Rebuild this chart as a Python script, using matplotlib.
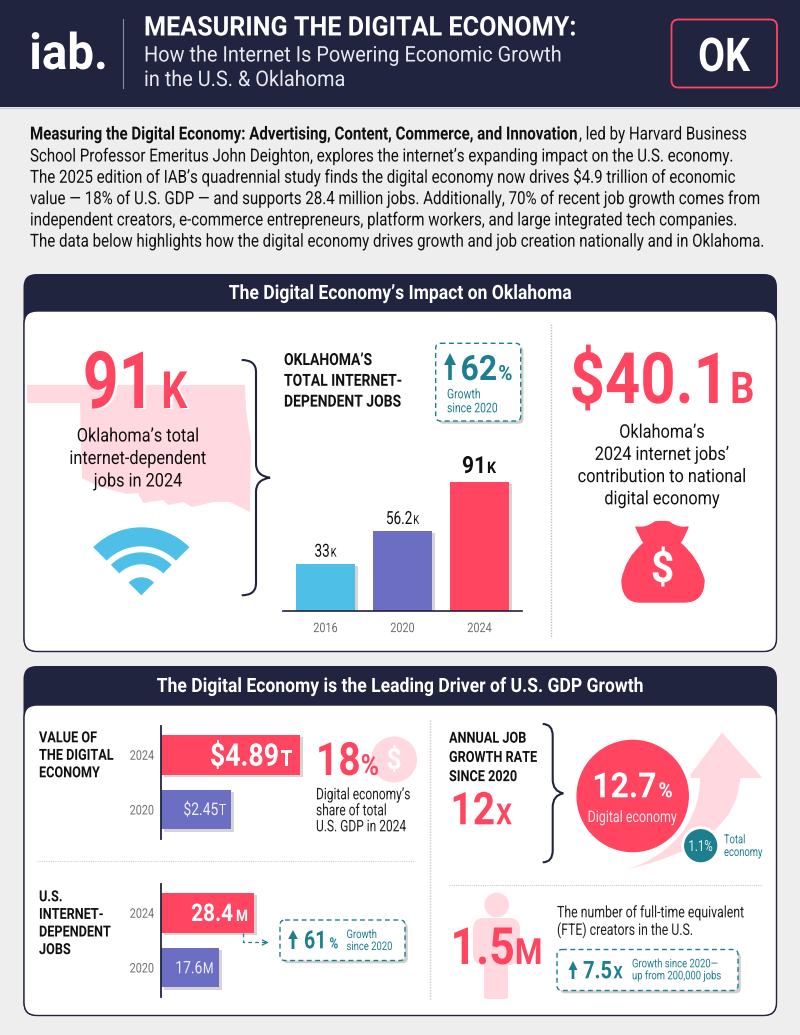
import matplotlib
matplotlib.use('Agg')
import matplotlib.pyplot as plt
import matplotlib.patheffects as pe
from matplotlib.patches import FancyBboxPatch, Circle, Wedge, Polygon, PathPatch
from matplotlib.path import Path
from matplotlib.text import Text
from matplotlib.transforms import Affine2D, Bbox

plt.rcParams['font.family'] = ['Roboto', 'DejaVu Sans']

NAVY = '#20243f'
RED = '#ff4560'
PURPLE = '#6c6ec4'
BLUE = '#4ec0e8'
TEAL = '#1d7f8e'
PINK = '#ffd9df'
BG = '#eeeeef'
GREY = '#6f6f6f'

# data
ok_years = ['2016', '2020', '2024']
ok_jobs = [33, 56.2, 91]
gdp_years = ['2020', '2024']
gdp_value = [2.45, 4.89]
jobs_years = ['2020', '2024']
jobs_value = [17.6, 28.4]

intro_lines = [
    "School Professor Emeritus John Deighton, explores the internet\u2019s expanding impact on the U.S. economy.",
    "The 2025 edition of IAB\u2019s quadrennial study finds the digital economy now drives $4.9 trillion of economic",
    "value \u2014 18% of U.S. GDP \u2014 and supports 28.4 million jobs. Additionally, 70% of recent job growth comes from",
    "independent creators, e-commerce entrepreneurs, platform workers, and large integrated tech companies.",
    "The data below highlights how the digital economy drives growth and job creation nationally and in Oklahoma.",
]

oklahoma_outline = [(27, 385), (245, 385), (246, 410), (251, 443), (250, 512), (240, 507), (230, 502), (213, 502),
                    (192, 507), (183, 502), (168, 505), (163, 500), (143, 503), (138, 493), (127, 494), (100, 487),
                    (82, 478), (80, 403), (27, 403)]

W, H = 800, 1035
fig = plt.figure(figsize=(W / 100, H / 100), dpi=100, facecolor=BG)


def full_axes(z):
    a = fig.add_axes([0, 0, 1, 1], zorder=z)
    a.set_xlim(0, W)
    a.set_ylim(H, 0)
    a.axis('off')
    return a


bg = full_axes(0)
ax = full_axes(10)
rend = fig.canvas.get_renderer()


class Squeeze(pe.AbstractPathEffect):
    # no condensed font here, so narrow the glyphs about the text anchor
    def __init__(self, text, sx, shadow=False):
        super().__init__()
        self.text = text
        self.sx = sx
        self.shadow = shadow

    def draw_path(self, renderer, gc, tpath, affine, rgbFace=None):
        xa = self.text.get_transform().transform(self.text.get_unitless_position())[0]
        tr = affine + Affine2D().translate(-xa, 0).scale(self.sx, 1).translate(xa, 0)
        if self.shadow:
            renderer.draw_path(gc, tpath, tr + Affine2D().translate(2.5, -1), (1, 1, 1, 1))
        renderer.draw_path(gc, tpath, tr, rgbFace)


class NarrowText(Text):
    def __init__(self, x, y, s, sx=0.83, shadow=False, **kw):
        super().__init__(x, y, s, **kw)
        self.sx = sx
        self.set_path_effects([Squeeze(self, sx, shadow)])

    def get_window_extent(self, renderer=None, dpi=None):
        bb = super().get_window_extent(renderer, dpi)
        xa = self.get_transform().transform(self.get_unitless_position())[0]
        return Bbox.from_extents(xa + (bb.x0 - xa) * self.sx, bb.y0, xa + (bb.x1 - xa) * self.sx, bb.y1)


def txt(x, y, s, size, color='#111111', weight='normal', ha='left', z=6, sx=0.83, shadow=False, **kw):
    t = NarrowText(x, y, s, sx=sx, shadow=shadow, fontsize=size, color=color, fontweight=weight,
                   horizontalalignment=ha, verticalalignment='baseline', zorder=z, **kw)
    t.set_clip_on(False)
    ax.add_artist(t)
    return t


def block(x, y, lines, size, pitch, **kw):
    for i, line in enumerate(lines):
        txt(x, y + i * pitch, line, size, **kw)


def num_unit(x, y, num, unit, size, usize, color='#111111', weight='bold', ha='center', gap=2, sx=0.83, shadow=False):
    # number plus a smaller unit letter on the same baseline
    a = txt(x, y, num, size, color=color, weight=weight, sx=sx, shadow=shadow)
    b = txt(x, y, unit, usize, color=color, weight=weight, sx=sx, shadow=shadow)
    wa = a.get_window_extent(rend).width
    wb = b.get_window_extent(rend).width
    left = x
    if ha == 'center':
        left = x - (wa + gap + wb) / 2
    elif ha == 'right':
        left = x - (wa + gap + wb)
    a.set_x(left)
    b.set_x(left + wa + gap)
    return a, b


def round_box(x0, y0, x1, y1, r, fc, ec='none', lw=0, z=1, on=None, **kw):
    p = FancyBboxPatch((x0, y0), x1 - x0, y1 - y0, boxstyle=f'round,pad=0,rounding_size={r}',
                       fc=fc, ec=ec, lw=lw, zorder=z, **kw)
    (on or ax).add_patch(p)
    return p


def panel(y0, y_head, y1, title):
    round_box(23.5, y0, 777, y1, 13, NAVY, z=1, on=bg)
    round_box(24, y_head, 776.5, y1 - 0.5, 13, 'white', ec=NAVY, lw=1, z=2, on=bg)
    txt(400, (y0 + y_head) / 2 + 6.5, title, 14.2, color='white', weight='bold', ha='center', sx=0.89)


def callout(x0, y0, x1, y1):
    p = round_box(x0, y0, x1, y1, 5, 'white', ec=TEAL, lw=1, z=3, linestyle=(0, (3.5, 2.5)))
    p.set_path_effects([pe.SimplePatchShadow(offset=(2, -2), shadow_rgbFace='#888888', alpha=0.4), pe.Normal()])


def up_arrow(x, y0, y1, w, head):
    pts = [(x, y0), (x + w, y0 + head), (x + w * 0.3, y0 + head), (x + w * 0.3, y1),
           (x - w * 0.3, y1), (x - w * 0.3, y0 + head), (x - w, y0 + head)]
    ax.add_patch(Polygon(pts, closed=True, fc=TEAL, ec='none', zorder=5))


def brace(x0, xm, xt, y0, ym, y1):
    c3 = Path.CURVE3
    verts = [(x0, y0), (xm, y0), (xm, y0 + 12), (xm, ym - 14), (xm, ym - 2), (xt, ym),
             (xm, ym + 2), (xm, ym + 14), (xm, y1 - 12), (xm, y1), (x0, y1)]
    codes = [Path.MOVETO, c3, c3, Path.LINETO, c3, c3, c3, c3, Path.LINETO, c3, c3]
    ax.add_patch(PathPatch(Path(verts, codes), fc='none', ec=NAVY, lw=1.5, zorder=4))


def inset(x, y, w, h):
    a = fig.add_axes([x / W, 1 - (y + h) / H, w / W, h / H], zorder=5)
    a.patch.set_alpha(0)
    for s in a.spines.values():
        s.set_visible(False)
    return a


bar_shadow = [pe.SimplePatchShadow(offset=(2, -1.5), shadow_rgbFace='#777777', alpha=0.3), pe.Normal()]

# header
ax.add_patch(plt.Rectangle((0, 0), W, 107, fc=NAVY, ec='none', zorder=1))
ax.plot([0, W], [107.5, 107.5], color='#c9cbd8', lw=1, zorder=1)
txt(68.5, 69, 'iab.', 36, color='white', weight='bold', ha='center', sx=0.95)
ax.plot([123, 123], [19, 88], color='#8a8c9c', lw=0.8, zorder=3)
txt(144, 35.5, 'MEASURING THE DIGITAL ECONOMY:', 19.5, color='white', weight='bold', sx=0.93)
txt(144, 61.5, 'How the Internet Is Powering Economic Growth', 15.5, color='#e8e8ee', sx=0.925)
txt(144, 86, 'in the U.S. & Oklahoma', 15.5, color='#e8e8ee', sx=0.925)
round_box(671.5, 19.5, 777, 87.5, 7, NAVY, ec=RED, lw=1.3, z=3)
txt(724, 71, 'OK', 33.5, color='white', weight='bold', ha='center', sx=0.84)

# intro
txt(30, 139.5, 'Measuring the Digital Economy: Advertising, Content, Commerce, and Innovation', 13, weight='bold', sx=0.835)
txt(579, 139.5, ', led by Harvard Business', 13, sx=0.835)
block(30, 161.5, intro_lines, 13, 21.3, sx=0.835)

# first panel
panel(274, 311, 652, 'The Digital Economy\u2019s Impact on Oklahoma')
ax.add_patch(Polygon(oklahoma_outline, closed=True, fc=PINK, ec='none', zorder=3))
num_unit(135, 408, '91', 'K', 57, 37, color=RED, gap=7, sx=0.79, shadow=True)
block(138, 441.5, ['Oklahoma\u2019s total', 'internet-dependent', 'jobs in 2024'], 13.5, 22.5, ha='center', sx=0.87)

wifi_c = (141.3, 595.3)
for r, wd in [(68, 19), (43, 12), (18, 18)]:
    ax.add_patch(Wedge(wifi_c, r, 225, 315, width=wd, fc=BLUE, ec='none', zorder=4))

brace(241.7, 256, 270, 360, 477.7, 595.3)
block(284, 365, ['OKLAHOMA\u2019S', 'TOTAL INTERNET-', 'DEPENDENT JOBS'], 12, 20.8, weight='bold', sx=0.835)

callout(435.7, 343.3, 520.7, 421)
up_arrow(450, 353, 380, 6, 12)
num_unit(460.5, 380, '62', '%', 25, 15, color=TEAL, ha='left', gap=1, sx=0.92)
block(447, 398.3, ['Growth', 'since 2020'], 9.5, 14, color=TEAL, sx=0.79)

ax1 = inset(283, 470, 239, 141)
ax1.bar(ok_years, ok_jobs, width=0.766, color=[BLUE, PURPLE, RED], path_effects=bar_shadow, zorder=2)
ax1.set_xlim(-0.552, 2.552)
ax1.set_ylim(0, 141 / 1.418)
ax1.set_yticks([])
ax1.spines['bottom'].set_visible(True)
ax1.spines['bottom'].set_color(NAVY)
ax1.spines['bottom'].set_linewidth(1.2)
ax1.spines['bottom'].set_zorder(5)
ax1.tick_params(axis='x', length=0, pad=8, labelsize=9.5, labelcolor=GREY)
for lab in ax1.get_xticklabels():
    lab.set_path_effects([Squeeze(lab, 0.82)])

num_unit(325.5, 556.7, '33', 'K', 13, 9, weight='normal', gap=1, sx=0.75)
num_unit(402.5, 524, '56.2', 'K', 13, 9, weight='normal', gap=1, sx=0.75)
num_unit(479, 473, '91', 'K', 17, 11.5, gap=1, sx=0.89)

ax.plot([550.5, 550.5], [324, 638], color='#bdbdbd', lw=1, ls=(0, (1, 1)), zorder=3)

num_unit(662, 403, '$40.1', 'B', 51, 31.5, color=RED, gap=1, sx=0.87)
block(662, 437.7, ['Oklahoma\u2019s', '2024 internet jobs\u2019', 'contribution to national', 'digital economy'],
      13.5, 22.2, ha='center', sx=0.87)

# money bag
bag_v = [(636, 527), (646, 529), (655, 522), (662, 521), (669, 522), (678, 529), (688, 527), (684, 537), (680, 543),
         (698, 558), (704, 580), (704, 602), (684, 602), (640, 602), (622, 602), (622, 580), (626, 558), (644, 543),
         (640, 537), (636, 527), (636, 527)]
bag_c = [Path.MOVETO, Path.CURVE3, Path.CURVE3, Path.CURVE3, Path.CURVE3, Path.CURVE3, Path.CURVE3, Path.CURVE3,
         Path.CURVE3, Path.CURVE3, Path.CURVE3, Path.CURVE3, Path.CURVE3, Path.LINETO, Path.CURVE3, Path.CURVE3,
         Path.CURVE3, Path.CURVE3, Path.CURVE3, Path.CURVE3, Path.CLOSEPOLY]
ax.add_patch(PathPatch(Path(bag_v, bag_c), fc=RED, ec=RED, lw=1, joinstyle='round', zorder=4))
txt(662.5, 582, '$', 31, color='white', weight='bold', ha='center', sx=0.95)

# second panel
panel(666, 705, 1016, 'The Digital Economy is the Leading Driver of U.S. GDP Growth')
block(39, 742.3, ['VALUE OF', 'THE DIGITAL', 'ECONOMY'], 11, 17.5, weight='bold')
block(39, 901.3, ['U.S.', 'INTERNET-', 'DEPENDENT', 'JOBS'], 11, 17.6, weight='bold')


def hbars(y, h, vals, years, unit_max):
    a = inset(161, y, 150, h)
    a.barh(years, vals, height=0.73, color=[PURPLE, RED], path_effects=bar_shadow, zorder=2)
    a.set_xlim(0, unit_max)
    a.set_ylim(-0.54, 1.526)
    a.set_xticks([])
    a.spines['left'].set_visible(True)
    a.spines['left'].set_color(NAVY)
    a.spines['left'].set_linewidth(1.3)
    a.tick_params(axis='y', length=0, pad=5, labelsize=9.5, labelcolor=GREY)
    for lab in a.get_yticklabels():
        lab.set_path_effects([Squeeze(lab, 0.82)])
    return a


hbars(726, 113, gdp_value, gdp_years, 150 / 28.5)
hbars(884, 113, jobs_value, jobs_years, 150 / 3.29)
num_unit(292, 765.7, '$4.89', 'T', 22.4, 15.5, color='white', ha='right', gap=1.5, sx=0.86)
num_unit(226, 815, '$2.45', 'T', 12.5, 11, color='#eeeef8', weight='normal', ha='right', gap=0.5, sx=0.8)
num_unit(248, 921, '28.4', 'M', 17.5, 11.5, color='white', ha='right', gap=3, sx=0.86)
num_unit(213.5, 973.3, '17.6', 'M', 12.5, 11, color='#eeeef8', weight='normal', ha='right', gap=0.5, sx=0.8)

# 18%
ax.add_patch(Circle((394, 759.5), 23, fc=PINK, ec='none', zorder=3))
txt(394, 769, '$', 21, color='white', weight='bold', ha='center', z=4, sx=0.9)
num_unit(316, 775, '18', '%', 33, 21, color=RED, ha='left', gap=0, sx=0.85)
block(316, 799.3, ['Digital economy\u2019s', 'share of total', 'U.S. GDP in 2024'], 11.5, 16, color='#222222', sx=0.75)

ax.plot([37, 415], [860.5, 860.5], color='#d0d0d0', lw=0.8, ls=(0, (1, 1)), zorder=3)

# 61% callout with dashed connector
ax.plot([242.5, 242.5, 268], [933, 942, 942], color=TEAL, lw=0.9, ls=(0, (3, 2.5)), zorder=6)
ax.annotate('', xy=(271.5, 942.5), xytext=(262, 942.5), zorder=6,
            arrowprops=dict(arrowstyle='->', color=TEAL, lw=0.9, mutation_scale=9))
callout(280, 920, 405, 960.5)
up_arrow(293, 930, 949, 4.8, 9)
num_unit(304, 948.3, '61', '%', 18, 11, color=TEAL, ha='left', gap=3, sx=0.78)
block(346.5, 938, ['Growth', 'since 2020'], 8.5, 12, color=TEAL, sx=0.8)

# right column
ax.plot([430, 430], [720, 1000], color='#c8c8c8', lw=1, ls=(0, (1, 1)), zorder=3)
block(449, 742.7, ['ANNUAL JOB', 'GROWTH RATE', 'SINCE 2020'], 11, 19.2, weight='bold')
num_unit(450.5, 824.3, '12', 'X', 32.5, 21, color=RED, ha='left', gap=1, sx=0.86)
brace(542.7, 552.7, 563.3, 724, 793.3, 862.3)

arrow_v = [(722, 732.5), (762.5, 778), (740, 778), (738, 815), (712, 850), (626, 869.5),
           (660, 860), (700, 830), (700, 778), (688, 778), (722, 732.5)]
arrow_c = [Path.MOVETO, Path.LINETO, Path.LINETO, Path.CURVE4, Path.CURVE4, Path.CURVE4,
           Path.CURVE4, Path.CURVE4, Path.CURVE4, Path.LINETO, Path.CLOSEPOLY]
ax.add_patch(PathPatch(Path(arrow_v, arrow_c), fc=PINK, ec='none', zorder=3))
ax.add_patch(Circle((632.7, 796), 58.7, fc=RED, ec='white', lw=3.5, zorder=4))
ax.add_patch(Circle((700.7, 845.7), 18, fc=TEAL, ec='white', lw=2, zorder=4))
num_unit(632.5, 797.3, '12.7', '%', 25, 15, color='white', gap=2, sx=0.92)
txt(632.5, 822, 'Digital economy', 11.5, color='#ffe6ea', ha='center', sx=0.78)
txt(700.5, 851, '1.1%', 11, color='#e5f3f5', ha='center', sx=0.75)
block(724, 843.3, ['Total', 'economy'], 9, 12.7, color=TEAL, sx=0.75)

ax.plot([449, 762], [884.5, 884.5], color='#c8c8c8', lw=0.8, ls=(0, (1, 1)), zorder=3)

# person behind 1.5M
ax.add_patch(Circle((496.7, 905), 12.3, fc=PINK, ec='none', zorder=3))
round_box(473, 918, 520, 965, 11, PINK, z=3)
round_box(484, 940, 508, 999, 3, PINK, z=3)
num_unit(450.5, 964, '1.5', 'M', 37, 26, color=RED, ha='left', gap=0, sx=0.87)

block(557, 917.3, ['The number of full-time equivalent', '(FTE) creators in the U.S.'], 11.5, 17.6, color='#222222', sx=0.77)
callout(557, 949.5, 738, 990.5)
up_arrow(573, 961, 979, 4.5, 9)
num_unit(583, 978.3, '7.5', 'X', 17.5, 12.5, color=TEAL, ha='left', gap=1.5, sx=0.83)
block(632, 967.3, ['Growth since 2020\u2014', 'up from 200,000 jobs'], 8.5, 12, color=TEAL, sx=0.8)

fig.savefig('out.png', dpi=100, facecolor=BG)
